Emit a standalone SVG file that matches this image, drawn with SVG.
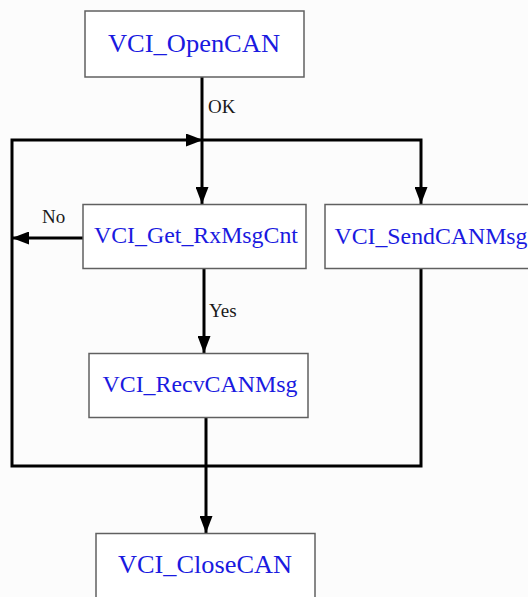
<svg xmlns="http://www.w3.org/2000/svg" width="528" height="597" viewBox="0 0 528 597">
<defs>
<marker id="ah" markerUnits="userSpaceOnUse" markerWidth="18" markerHeight="13" refX="17" refY="6.5" orient="auto">
<path d="M0,0 L17,6.5 L0,13 z" fill="#000"/>
</marker>
<style>
.box{fill:#ffffff;stroke:#606060;stroke-width:1.5}
.nt{font-family:"Liberation Serif","Times New Roman",serif;fill:#1a1ae0;text-anchor:middle}
.lbl{font-family:"Liberation Serif","Times New Roman",serif;fill:#1a1a1a;font-size:19px}
.ln{fill:none;stroke:#000;stroke-width:3;stroke-linejoin:miter}
</style>
</defs>
<rect x="0" y="0" width="528" height="597" fill="#fcfcfc"/>
<g id="connectors">
<path class="ln" d="M202,77 L202,204" marker-end="url(#ah)"/>
<path class="ln" d="M202,140 L421,140 L421,204" marker-end="url(#ah)"/>
<path class="ln" d="M421,268 L421,466 L12,466 L12,140 L203,140" marker-end="url(#ah)"/>
<path class="ln" d="M83,238 L12,238" marker-end="url(#ah)"/>
<path class="ln" d="M204,268 L204,353" marker-end="url(#ah)"/>
<path class="ln" d="M206,417 L206,533" marker-end="url(#ah)"/>
<text class="lbl" x="208" y="113">OK</text>
<text class="lbl" x="42" y="223">No</text>
<text class="lbl" x="209" y="317">Yes</text>
</g>
<g id="n_open">
<rect class="box" x="85" y="11" width="219" height="66"/>
<text class="nt" x="194" y="52" font-size="26" textLength="172" lengthAdjust="spacingAndGlyphs">VCI_OpenCAN</text>
</g>
<g id="n_getrx">
<rect class="box" x="83" y="204.5" width="223" height="64"/>
<text class="nt" x="196" y="243" font-size="24" textLength="204" lengthAdjust="spacingAndGlyphs">VCI_Get_RxMsgCnt</text>
</g>
<g id="n_send">
<rect class="box" x="325" y="204.5" width="210" height="64"/>
<text class="nt" x="431" y="244" font-size="24" textLength="193" lengthAdjust="spacingAndGlyphs">VCI_SendCANMsg</text>
</g>
<g id="n_recv">
<rect class="box" x="89" y="353.5" width="219" height="64"/>
<text class="nt" x="200" y="392" font-size="24" textLength="195" lengthAdjust="spacingAndGlyphs">VCI_RecvCANMsg</text>
</g>
<g id="n_close">
<rect class="box" x="96" y="533.5" width="219" height="70"/>
<text class="nt" x="205" y="573" font-size="26" textLength="174" lengthAdjust="spacingAndGlyphs">VCI_CloseCAN</text>
</g>
</svg>
